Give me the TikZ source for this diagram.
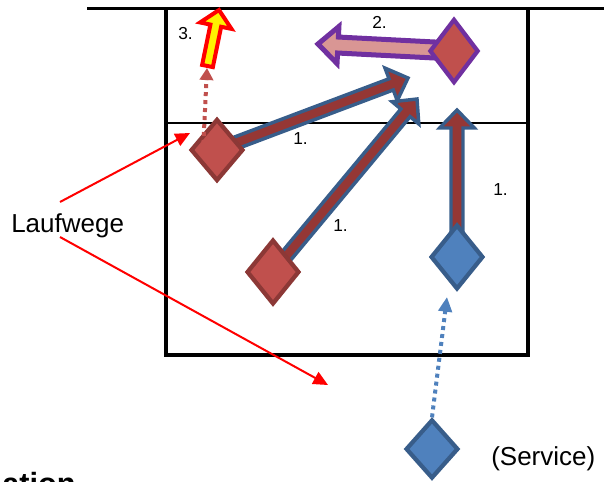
\documentclass[tikz,border=0pt]{standalone}
\usepackage{fontspec}
\setmainfont{Liberation Sans}
\usetikzlibrary{shapes.geometric,arrows.meta,calc}
\definecolor{rfill}{HTML}{C0504D}
\definecolor{rline}{HTML}{8C3836}
\definecolor{bfill}{HTML}{4F81BD}
\definecolor{bline}{HTML}{385D8A}
\definecolor{shaftred}{HTML}{953735}
\definecolor{purp}{HTML}{7030A0}
\definecolor{pinkfill}{HTML}{D99694}
\pgfdeclarelayer{back}
\pgfdeclarelayer{mid}
\pgfsetlayers{back,mid,main}
% #1 style, #2 start, #3 tip, #4 half shaft, #5 half head, #6 head length
\newcommand\blockarr[6]{%
  \coordinate (ba-h) at ($(#3)!#6!(#2)$);
  \draw[#1] ($(#2)!#4!90:(#3)$) -- ($(ba-h)!#4!90:(#3)$) -- ($(ba-h)!#5!90:(#3)$) -- (#3)
    -- ($(ba-h)!#5!-90:(#3)$) -- ($(ba-h)!#4!-90:(#3)$) -- ($(#2)!#4!-90:(#3)$) -- cycle;}
\tikzset{
  reddia/.style={diamond, draw=rline, fill=rfill, line width=3.2pt, inner sep=0pt},
  bluedia/.style={diamond, draw=bline, fill=bfill, line width=3.2pt, inner sep=0pt},
  runarrow/.style={draw=bline, fill=shaftred, line width=2.6pt, line join=miter},
  lbl/.style={anchor=base west, inner sep=0pt, font=\fontsize{13}{15}\selectfont},
  bigtxt/.style={anchor=base west, inner sep=0pt, font=\fontsize{19.5}{22}\selectfont},
  pointer/.style={draw=red, line width=1.5pt, -{Triangle[width=10pt,length=11pt]}},
  dotline/.style={line width=3pt, dash pattern=on 3pt off 3pt}
}
\begin{document}
\begin{tikzpicture}[x=0.75pt,y=-0.75pt]
\useasboundingbox (0,0) rectangle (604,482);
% court
\begin{pgfonlayer}{back}
\draw[line width=2.25pt] (87,8) -- (604,8);
\draw[line width=3.4pt, line join=miter] (166,7) -- (166,355) -- (528,355) -- (528,7);
\draw[line width=1.9pt] (166,123) -- (528,123);
\end{pgfonlayer}
% players
\node[reddia, minimum width=39.5pt, minimum height=46.5pt] (dA) at (217,150) {};
\node[reddia, minimum width=39.5pt, minimum height=48.5pt] (dB) at (273,272) {};
\node[bluedia, minimum width=39.5pt, minimum height=48.5pt] (dC) at (457,257) {};
\node[reddia, draw=purp, minimum width=36.75pt, minimum height=48pt] (dD) at (454,51) {};
\node[bluedia, minimum width=39.5pt, minimum height=44.25pt] (dE) at (432,449) {};
% free ends
\coordinate (t1) at (408,78);
\coordinate (t2) at (417,99);
\coordinate (t3) at (457,110);
\coordinate (tP) at (318,44);
\coordinate (yS) at (207.5,66);
\coordinate (yT) at (219,10);
\coordinate (rS) at (203,152);
\coordinate (rT) at (207,68);
\coordinate (bT) at (447,297);
\coordinate (lw1s) at (60,202);
\coordinate (lw1e) at (190,133);
\coordinate (lw2s) at (60,237);
\coordinate (lw2e) at (328,385);
% block arrows
\begin{pgfonlayer}{mid}
\blockarr{runarrow}{dB.center}{t2}{4.5pt}{13pt}{13.5pt}
\blockarr{runarrow}{dC.center}{t3}{4.5pt}{13pt}{13.5pt}
\blockarr{runarrow}{dA.center}{t1}{4.5pt}{13pt}{13.5pt}
\blockarr{draw=purp, fill=pinkfill, line width=3.75pt}{dD.center}{tP}{6pt}{13.9pt}{15pt}
\draw[bfill, dotline, -{Triangle[width=10pt,length=11pt]}] (dE.north) -- (bT);
\end{pgfonlayer}
% dotted red and yellow arrow
\draw[rfill, dotline, -{Triangle[width=10pt,length=9pt]}] (rS) -- (rT);
\blockarr{draw=red, fill=yellow, line width=3pt}{yS}{yT}{4.1pt}{12pt}{12pt}
% labels
\node[lbl] (l1a) at (293,144) {1.};
\node[lbl] (l1b) at (333,231) {1.};
\node[lbl] (l1c) at (493,195) {1.};
\node[lbl] (l2) at (372,28) {2.};
\node[lbl] (l3) at (178,39) {3.};
\node[bigtxt] (lw) at (11,232) {Laufwege};
\node[bigtxt] (svc) at (491,465) {(Service)};
\draw[pointer] (lw1s) -- (lw1e);
\draw[pointer] (lw2s) -- (lw2e);
% cropped text at the bottom edge
\begin{scope}
\clip (0,0) rectangle (604,482);
\node[anchor=base west, inner sep=0pt, font=\bfseries\fontsize{23}{26}\selectfont] (frag) at (2,494) {ation};
\end{scope}
\end{tikzpicture}
\end{document}
